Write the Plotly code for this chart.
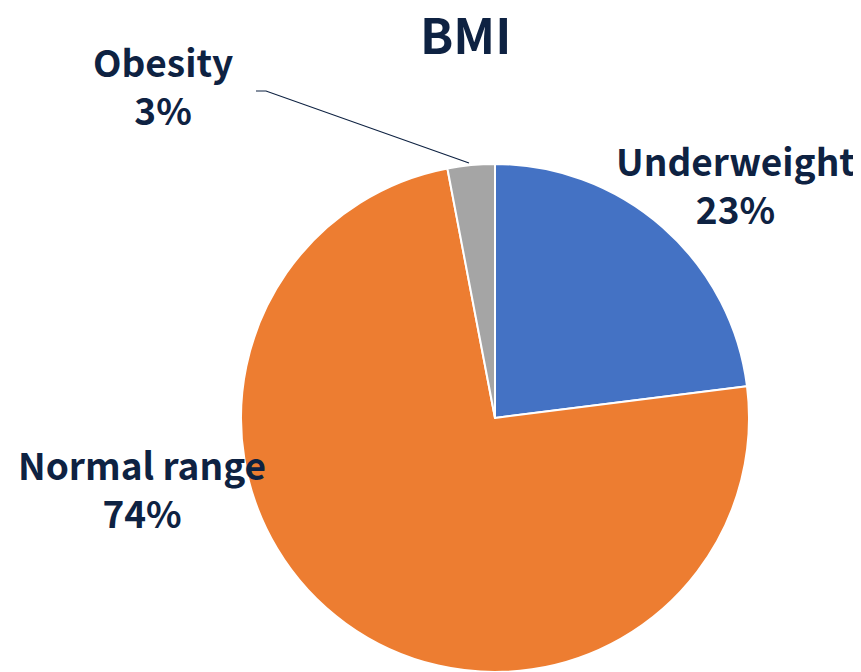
import plotly.graph_objects as go

categories = ["Underweight", "Normal range", "Obesity"]
values = [23, 74, 3]
colors = ["#4472C4", "#ED7D31", "#A5A5A5"]

W, H = 861, 672
OFF = 8  # page body margin offset
TXT = "#0E2242"
FONT = "Noto Sans CJK JP"

def px(x, y):
    return (x - OFF) / W, 1 - (y - OFF) / H

cx, cy, r = 495, 418, 254
fig = go.Figure(go.Pie(
    labels=categories, values=values, sort=False, direction="clockwise",
    rotation=0, marker=dict(colors=colors, line=dict(color="white", width=2)),
    textinfo="none", hoverinfo="label+percent", showlegend=False,
    domain=dict(x=[(cx - OFF - r) / W, (cx - OFF + r) / W],
                y=[1 - (cy - OFF + r) / H, 1 - (cy - OFF - r) / H]),
))

total = sum(values)
label_pos = {"Underweight": (735, 184), "Normal range": (142, 488), "Obesity": (163, 85)}
for cat, v in zip(categories, values):
    x, y = px(*label_pos[cat])
    fig.add_annotation(x=x, y=y, xref="paper", yref="paper", showarrow=False,
                       text=f"<b>{cat}<br>{round(100 * v / total)}%</b>",
                       font=dict(family=FONT, size=37, color=TXT), align="center",
                       xanchor="center", yanchor="middle")

x0, y0 = px(256, 91)
x1, y1 = px(266, 91)
x2, y2 = px(469, 163)
fig.add_shape(type="path", xref="paper", yref="paper",
              path=f"M {x0} {y0} L {x1} {y1} L {x2} {y2}",
              line=dict(color=TXT, width=1.2))

tx, ty = px(466, 33)
fig.add_annotation(x=tx, y=ty, xref="paper", yref="paper", showarrow=False,
                   text="<b>BMI</b>", font=dict(family=FONT, size=49, color=TXT),
                   xanchor="center", yanchor="middle")

fig.update_layout(width=W, height=H, margin=dict(l=0, r=0, t=0, b=0),
                  paper_bgcolor="white", plot_bgcolor="white")
fig.write_html("out.html")
